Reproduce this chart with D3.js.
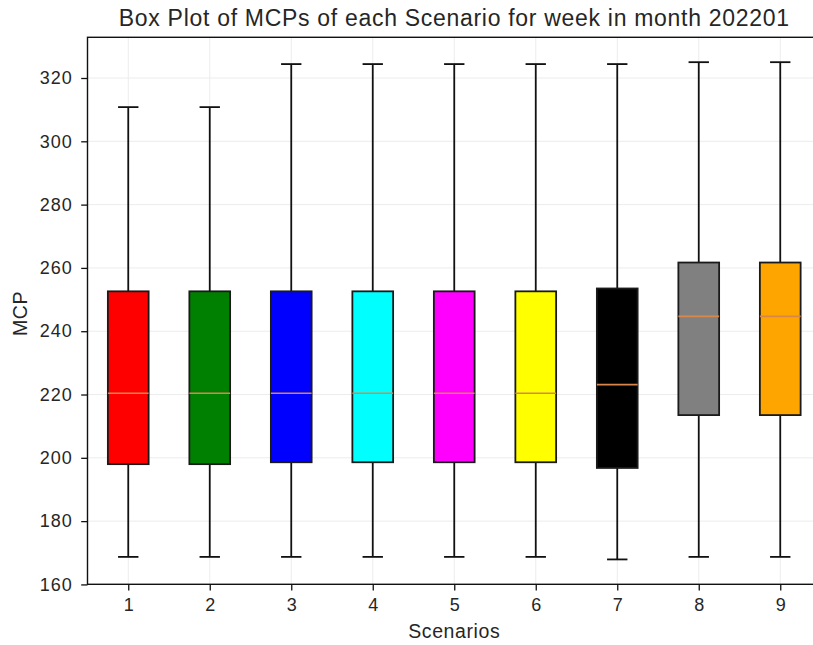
<!DOCTYPE html>
<html>
<head>
<meta charset="utf-8">
<script src="https://cdn.jsdelivr.net/npm/d3@7"></script>
<style>
  html, body { margin: 0; padding: 0; background: #fff; }
  svg { display: block; font-family: "Liberation Sans", Arial, sans-serif; }
</style>
</head>
<body>
<svg id="chart" width="813" height="645"></svg>
<script>
// Scenario labels and five-number summaries of weekly MCPs
const scenarios = ["1", "2", "3", "4", "5", "6", "7", "8", "9"];
const whiskerLow = [168.7, 168.7, 168.7, 168.7, 168.7, 168.7, 167.9, 168.7, 168.7];
const q1 =         [198.0, 198.0, 198.6, 198.6, 198.6, 198.6, 196.8, 213.5, 213.5];
const median =     [220.4, 220.4, 220.4, 220.4, 220.4, 220.4, 223.1, 244.7, 244.7];
const q3 =         [252.6, 252.6, 252.6, 252.6, 252.6, 252.6, 253.5, 261.7, 261.7];
const whiskerHigh = [310.8, 310.8, 324.4, 324.4, 324.4, 324.4, 324.4, 325.0, 325.0];
const boxColors = ["red", "green", "blue", "cyan", "magenta", "yellow", "black", "gray", "orange"];
const yTicks = [160, 180, 200, 220, 240, 260, 280, 300, 320];

const svg = d3.select("#chart");
const textColor = "#262626";
const lineColor = "#111";

const plot = { left: 87.5, right: 821, top: 37.3, bottom: 584.3 };

const x = d3.scaleLinear().domain([0.5, 9.5]).range([plot.left, plot.right]);
const y = d3.scaleLinear().domain([160.04, 332.86]).range([plot.bottom, plot.top]);

const boxes = scenarios.map((s, i) => ({
  pos: i + 1, label: s, lo: whiskerLow[i], q1: q1[i], med: median[i],
  q3: q3[i], hi: whiskerHigh[i], color: boxColors[i]
}));

// light grid
const grid = svg.append("g");
grid.selectAll("line.gy").data(yTicks).join("line")
  .attr("x1", plot.left).attr("x2", plot.right)
  .attr("y1", d => y(d)).attr("y2", d => y(d))
  .attr("stroke", "#ececec").attr("stroke-width", 1);
grid.selectAll("line.gx").data(boxes).join("line")
  .attr("y1", plot.top).attr("y2", plot.bottom)
  .attr("x1", d => x(d.pos)).attr("x2", d => x(d.pos))
  .attr("stroke", "#ececec").attr("stroke-width", 1);

// boxes, whiskers, caps, medians
const boxW = x(1.25) - x(1);
const capW = x(1.125) - x(1);
const g = svg.append("g").selectAll("g").data(boxes).join("g");
g.append("line")
  .attr("x1", d => x(d.pos)).attr("x2", d => x(d.pos))
  .attr("y1", d => y(d.q3)).attr("y2", d => y(d.hi))
  .attr("stroke", lineColor).attr("stroke-width", 1.8);
g.append("line")
  .attr("x1", d => x(d.pos)).attr("x2", d => x(d.pos))
  .attr("y1", d => y(d.q1)).attr("y2", d => y(d.lo))
  .attr("stroke", lineColor).attr("stroke-width", 1.8);
g.append("line")
  .attr("x1", d => x(d.pos) - capW).attr("x2", d => x(d.pos) + capW)
  .attr("y1", d => y(d.hi)).attr("y2", d => y(d.hi))
  .attr("stroke", lineColor).attr("stroke-width", 1.8);
g.append("line")
  .attr("x1", d => x(d.pos) - capW).attr("x2", d => x(d.pos) + capW)
  .attr("y1", d => y(d.lo)).attr("y2", d => y(d.lo))
  .attr("stroke", lineColor).attr("stroke-width", 1.8);
g.append("rect")
  .attr("x", d => x(d.pos) - boxW).attr("width", 2 * boxW)
  .attr("y", d => y(d.q3)).attr("height", d => y(d.q1) - y(d.q3))
  .attr("fill", d => d.color).attr("stroke", "#1a1a1a").attr("stroke-width", 1.8);
g.append("line")
  .attr("x1", d => x(d.pos) - boxW).attr("x2", d => x(d.pos) + boxW)
  .attr("y1", d => y(d.med)).attr("y2", d => y(d.med))
  .attr("stroke", "#d8874c").attr("stroke-width", 1.7);

// axes
const tickFont = { size: "18px", spacing: "1px" };
const yAxis = svg.append("g").attr("transform", `translate(${plot.left},0)`)
  .call(d3.axisLeft(y).tickValues(yTicks).tickSize(6.3).tickPadding(8.5).tickFormat(d3.format("d")));
const xAxis = svg.append("g").attr("transform", `translate(0,${plot.bottom})`)
  .call(d3.axisBottom(x).tickValues(boxes.map(d => d.pos)).tickSize(6.3).tickPadding(8)
    .tickFormat((d, i) => scenarios[i]));
[xAxis, yAxis].forEach(a => {
  a.select(".domain").remove();
  a.selectAll(".tick line").attr("stroke", lineColor).attr("stroke-width", 1.3);
  a.selectAll(".tick text").attr("fill", textColor)
    .style("font-family", "'Liberation Sans', Arial, sans-serif")
    .style("font-size", tickFont.size).style("letter-spacing", tickFont.spacing);
});
xAxis.selectAll(".tick text").attr("dx", "0.5px");

// spines
svg.append("rect")
  .attr("x", plot.left).attr("y", plot.top)
  .attr("width", plot.right - plot.left).attr("height", plot.bottom - plot.top)
  .attr("fill", "none").attr("stroke", lineColor).attr("stroke-width", 1.4);

// titles
const midX = (plot.left + plot.right) / 2;
svg.append("text").attr("x", midX).attr("y", 26)
  .attr("text-anchor", "middle").attr("fill", textColor)
  .style("font-size", "23px").style("letter-spacing", "0.7px")
  .text("Box Plot of MCPs of each Scenario for week in month 202201");
svg.append("text").attr("x", midX).attr("y", 638.3)
  .attr("text-anchor", "middle").attr("fill", textColor)
  .style("font-size", "19.5px").style("letter-spacing", "0.6px")
  .text("Scenarios");
svg.append("text")
  .attr("transform", `translate(27,313.5) rotate(-90)`)
  .attr("text-anchor", "middle").attr("fill", textColor)
  .style("font-size", "19.5px").style("letter-spacing", "0.6px")
  .text("MCP");
</script>
</body>
</html>
